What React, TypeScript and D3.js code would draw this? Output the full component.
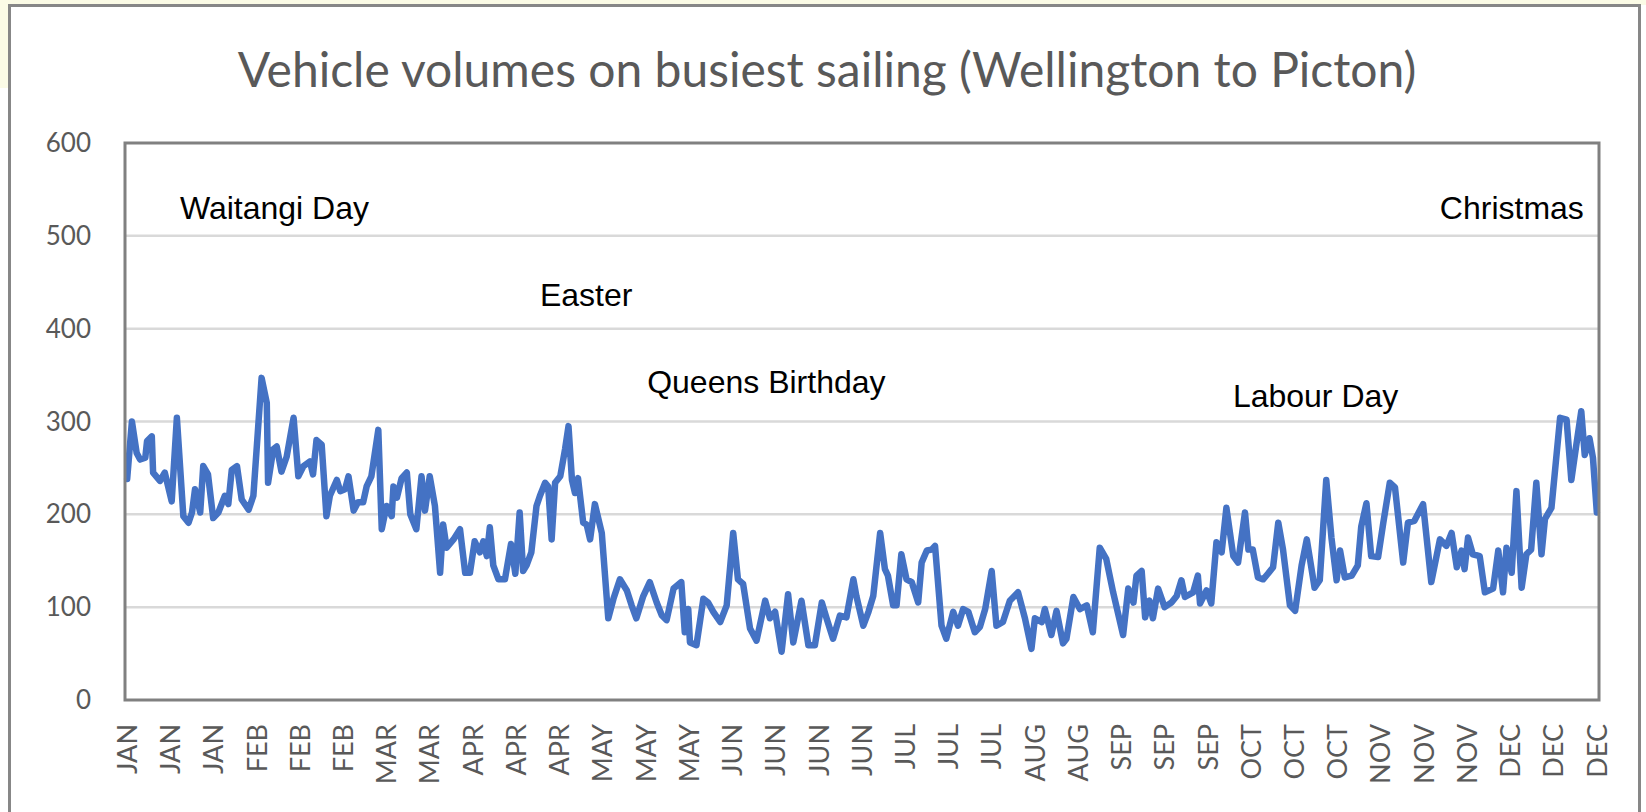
import React from "react";
import * as d3 from "d3";

// ---- data ----
const monthLabels = [
  "JAN", "JAN", "JAN", "FEB", "FEB", "FEB", "MAR", "MAR", "APR", "APR", "APR", "MAY",
  "MAY", "MAY", "JUN", "JUN", "JUN", "JUN", "JUL", "JUL", "JUL", "AUG", "AUG", "SEP",
  "SEP", "SEP", "OCT", "OCT", "OCT", "NOV", "NOV", "NOV", "DEC", "DEC", "DEC",
];
const labelEvery = 10; // a category label every 10 sailings
const categoryCount = 341;
const yTicks = [0, 100, 200, 300, 400, 500, 600];

// sailing index (category position) and vehicle volume of the visible vertices
const dayIndex = [
  0, 1.1, 2.2, 3.0, 4.2, 4.6, 5.7, 6.0, 7.6, 8.7, 10.3, 11.5, 13.0, 14.2, 15.0, 15.7, 16.9,
  17.6, 18.7, 19.9, 21.1, 22.6, 23.4, 24.2, 25.4, 26.5, 28.1, 29.2, 31.1, 32.3, 32.6, 33.8,
  34.6, 35.7, 36.9, 38.5, 39.6, 40.8, 42.3, 43.0, 43.8, 45.0, 46.1, 46.9, 48.5, 49.3, 50.4,
  51.2, 52.4, 53.4, 54.6, 55.4, 56.5, 58.1, 58.9, 60.0, 61.2, 61.6, 62.4, 63.5, 64.7, 65.5,
  66.9, 68.1, 68.9, 70.0, 71.2, 72.4, 73.1, 73.9, 75.5, 77.0, 78.2, 79.3, 80.4, 81.6, 82.4,
  83.2, 83.9,
  84.7, 85.9, 87.4, 88.8, 89.8, 90.8, 91.6, 92.4, 93.5, 94.7, 95.5, 96.7, 97.4, 98.2,
  99.0, 100.2, 101.3, 102.1, 102.9, 103.6, 104.3, 105.5, 106.3, 107.1, 108.2, 109.8, 111.3,
  112.5, 114.0, 115.6, 116.7, 117.8, 119.4, 120.9, 122.5, 123.7, 124.8, 126.4, 128.2, 129.0,
  129.8, 130.2, 131.7, 133.3, 134.4, 135.6, 137.2, 138.7, 140.2, 141.3, 142.5, 144.1, 145.6,
  147.6, 148.7, 149.9, 151.4, 152.9, 154.1, 156.0, 157.6, 159.1, 160.7, 161.8, 163.3, 164.9,
  166.4, 168.0, 168.7,
  170.3, 171.5, 172.6, 174.2, 175.3, 176.0, 177.2, 178.0, 179.1, 180.3, 181.5, 183.0, 183.8,
  185.0, 186.1, 186.9, 188.4, 189.5, 191.1, 192.2, 193.4, 194.6, 196.1, 197.3, 198.5, 200.0,
  201.1, 202.6, 204.2, 206.1, 207.7, 209.2, 210.0, 211.6, 212.3, 213.8, 215.0, 216.5, 217.3,
  218.9, 220.4, 222.0, 223.4, 225.0, 226.5, 228.1, 230.4, 231.6, 232.8, 233.5, 234.7, 235.5,
  236.5, 237.3, 238.5, 240.0, 241.6, 242.8, 243.9, 244.7, 246.6, 247.7, 248.2, 249.7, 250.8,
  252.0, 253.2, 254.3,
  255.9, 257.0, 258.6, 259.4, 260.4, 261.6, 262.8, 263.9, 265.1, 266.3, 267.4, 269.0, 270.2,
  271.7, 272.9, 274.7, 275.9, 277.4, 278.6, 279.8, 280.6, 281.7, 283.3, 284.7, 285.5, 286.7,
  287.8, 289.4, 290.6, 292.1, 293.3, 295.2, 296.3, 297.8, 299.8, 301.7, 303.7, 305.2, 306.4,
  307.6, 308.7, 309.4, 310.2, 311.3, 312.9, 314.1, 316.0, 317.2, 318.3, 319.1, 320.3, 321.4,
  322.6, 323.7, 324.8, 326.0, 327.2, 328.0, 329.5, 331.5, 333.0, 334.1, 335.2, 336.4, 337.2,
  338.3, 339.1, 340,
];
const vehicles = [
  238, 300, 266, 259, 261, 279, 284, 245, 236, 245, 214, 304, 198, 191, 202, 227, 202,
  252, 243, 196, 202, 220, 211, 248, 252, 216, 205, 220, 347, 320, 234, 270,
  273, 246, 262, 304, 241, 252, 257, 243, 280, 275, 198, 220, 237, 225, 227,
  241, 204, 213, 213, 230, 241, 291, 184, 209, 198, 230, 218, 239, 245, 200,
  184, 241, 204, 241, 209, 137, 189, 164, 173, 184, 137, 137, 171, 159, 171,
  155, 186,
  145, 130, 130, 168, 136, 202, 139, 145, 159, 209, 220, 234, 230, 173,
  234, 241, 270, 295, 237, 223, 239, 191, 189, 173, 211, 180, 88,
  109, 130, 118, 102, 88, 112, 127, 105, 91, 86, 120, 127, 73,
  98, 62, 59, 109, 105, 95, 84, 102, 180, 130, 125, 77, 64,
  107, 88, 95, 52, 114, 62, 107, 59, 59, 105, 88, 66, 91,
  89, 130, 112,
  80, 95, 112, 180, 141, 134, 102, 102, 157, 130, 127, 105, 148,
  161, 162, 166, 80, 66, 95, 80, 98, 95, 73, 79, 98, 139,
  80, 84, 107, 116, 88, 55, 88, 84, 98, 70, 96, 61, 66,
  111, 98, 102, 73, 164, 152, 116, 70, 120, 105, 134, 139, 89,
  107, 88, 120, 100, 105, 112, 129, 111, 116, 134, 104, 118, 104,
  170, 159, 207,
  155, 148, 202, 162, 162, 132, 130, 136, 143, 191, 162, 102, 96,
  145, 173, 121, 129, 237, 175, 129, 161, 132, 134, 145, 187, 212,
  155, 154, 191, 234, 229, 148, 191, 193, 211, 127, 173, 166, 180,
  143, 161, 141, 175, 157, 155, 116, 120, 161, 116, 164, 137, 225,
  121, 157, 162, 234, 157, 195, 207, 304, 302, 237, 273, 311, 264,
  282, 261, 202,
];

const annotationText = ["Waitangi Day", "Easter", "Queens Birthday", "Labour Day", "Christmas"];
const annotationDay = [12.2, 95.5, 120.3, 255.8, 337.0];
const annotationValue = [518, 424, 331, 316, 518];
const annotationAnchor = ["start", "start", "start", "start", "end"];

const titleText = "Vehicle volumes on busiest sailing (Wellington to Picton)";

// ---- layout ----
const W = 1646;
const H = 812;
const plot = { left: 125, right: 1599, top: 143, bottom: 700 };
const calibriLike = "Lato, 'Open Sans', sans-serif";

export default function App() {
  const x = d3
    .scaleLinear()
    .domain([-0.5, categoryCount - 0.5])
    .range([plot.left, plot.right]);
  const y = d3.scaleLinear().domain([0, 600]).range([plot.bottom, plot.top]);

  const points: [number, number][] = dayIndex.map((d, i) => [d, vehicles[i]]);
  const path = d3
    .line<[number, number]>()
    .x((d) => x(d[0]))
    .y((d) => y(d[1]))(points);

  return (
    <svg
      width={W}
      height={H}
      style={{ position: "absolute", left: 0, top: 0, background: "#ffffff" }}
    >
      {/* pale yellow page behind the chart frame */}
      <rect x={0} y={0} width={W} height={5} fill="#fbfbe6" />
      <rect x={0} y={0} width={9} height={88} fill="#fbfbe6" />
      {/* chart frame */}
      <rect
        x={9.5}
        y={5.5}
        width={1639.5 - 9.5}
        height={H + 20}
        fill="#ffffff"
        stroke="#878787"
        strokeWidth={3}
      />

      {/* title */}
      <text
        x={827}
        y={87}
        textAnchor="middle"
        fontFamily={calibriLike}
        fontSize={48}
        fill="#595959"
      >
        {titleText}
      </text>

      {/* gridlines */}
      {yTicks
        .filter((t) => t > 0 && t < 600)
        .map((t) => (
          <line
            key={"g" + t}
            x1={plot.left}
            x2={plot.right}
            y1={y(t)}
            y2={y(t)}
            stroke="#d9d9d9"
            strokeWidth={2.5}
          />
        ))}

      {/* y tick labels */}
      {yTicks.map((t) => (
        <text
          key={"y" + t}
          x={91}
          y={y(t)}
          dy="0.35em"
          textAnchor="end"
          fontFamily={calibriLike}
          fontSize={26}
          fill="#595959"
        >
          {t}
        </text>
      ))}

      {/* x category labels */}
      {monthLabels.map((m, i) => (
        <text
          key={"x" + i}
          transform={`translate(${x(i * labelEvery)},724) rotate(-90)`}
          dy="0.36em"
          textAnchor="end"
          fontFamily={calibriLike}
          fontSize={27}
          fill="#595959"
        >
          {m}
        </text>
      ))}

      {/* series */}
      <path
        d={path || ""}
        fill="none"
        stroke="#4472c4"
        strokeWidth={6.5}
        strokeLinejoin="round"
        strokeLinecap="round"
      />

      {/* plot area border */}
      <rect
        x={plot.left}
        y={plot.top}
        width={plot.right - plot.left}
        height={plot.bottom - plot.top}
        fill="none"
        stroke="#808080"
        strokeWidth={3}
      />

      {/* holiday annotations */}
      {annotationText.map((t, i) => (
        <text
          key={"a" + i}
          x={x(annotationDay[i])}
          y={y(annotationValue[i])}
          textAnchor={annotationAnchor[i] as any}
          fontFamily="'Liberation Sans', Arial, sans-serif"
          fontSize={32}
          fill="#000000"
        >
          {t}
        </text>
      ))}
    </svg>
  );
}
